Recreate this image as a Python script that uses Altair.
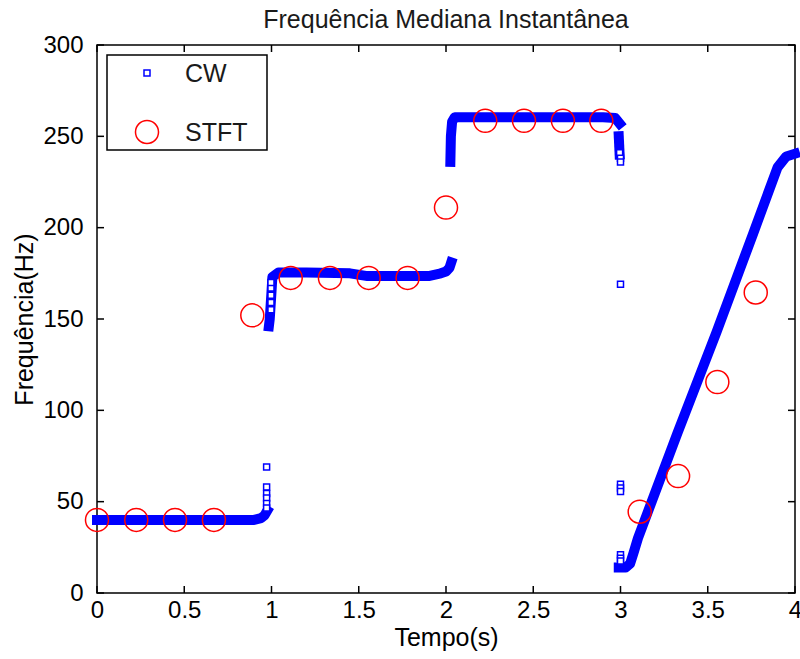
import altair as alt
import pandas as pd

# ---- data ----
x_ticks = [0, 0.5, 1, 1.5, 2, 2.5, 3, 3.5, 4]
y_ticks = [0, 50, 100, 150, 200, 250, 300]

# STFT estimates (red circles)
stft_t = [0.0, 0.225, 0.447, 0.67, 0.89, 1.11, 1.335, 1.557, 1.78, 2.0,
          2.225, 2.447, 2.67, 2.89, 3.11, 3.33, 3.555, 3.775]
stft_f = [40, 40, 40, 40, 152, 172.5, 172.5, 172.5, 172.5, 211,
          258.5, 258.5, 258.5, 258.5, 44.5, 64, 115.5, 164.5]

# CW estimate: dense runs of samples (drawn as a solid band of markers)
band_seg = ["a"] * 5 + ["b"] * 13 + ["c"] * 7 + ["d"] * 2 + ["e"] * 11
band_t = [0.0, 0.90, 0.94, 0.96, 0.975,
          0.985, 0.99, 1.0, 1.005, 1.04, 1.2, 1.45, 1.55, 1.9, 1.97, 2.0, 2.02, 2.03,
          2.025, 2.028, 2.035, 2.05, 2.9, 2.97, 2.995,
          2.99, 2.995,
          2.99, 3.03, 3.055, 3.075, 3.1, 3.326, 3.551, 3.761, 3.9, 3.95, 4.0]
band_f = [40, 40, 41, 42.5, 45,
          146, 150, 165, 173, 175.5, 175.5, 175, 173.5, 173.5, 175, 176, 178, 181,
          236, 250, 258, 260.5, 260.5, 260, 257,
          250, 240,
          14, 14, 16, 22, 30, 87.4, 143, 197, 233, 239, 240.5]

# CW isolated samples
cw_t = [0.972, 0.972, 0.972, 0.972, 0.972, 0.972,
        0.997, 0.997, 0.997, 0.997, 0.997,
        2.995, 3.0, 3.0,
        3.0, 3.0, 3.0, 3.0, 3.0, 3.0, 3.0]
cw_f = [69, 58, 54.5, 52, 49, 46.5,
        155, 159, 163, 167, 170,
        241, 238, 236,
        169, 59.5, 57.5, 55.5, 21, 19, 17.5]

legend_labels = ["CW", "STFT"]
title_text = "Frequência Mediana Instantânea"
x_title = "Tempo(s)"
y_title = "Frequência(Hz)"

FONT = "Liberation Sans"
FS = 25
LFS = 24
W, H = 698, 548
BLUE = "#0000ff"
RED = "#ff0000"

xs = alt.Scale(domain=[0, 4], nice=False, zero=False)
ys = alt.Scale(domain=[0, 300], nice=False, zero=False)

band_df = pd.DataFrame({"seg": band_seg, "t": band_t, "f": band_f,
                        "i": list(range(len(band_t)))})
cw_df = pd.DataFrame({"t": cw_t, "f": cw_f})
stft_df = pd.DataFrame({"t": stft_t, "f": stft_f})
xt_df = pd.DataFrame({"v": x_ticks})
yt_df = pd.DataFrame({"v": y_ticks})

x_axis = alt.Axis(values=x_ticks, labelExpr="'' + datum.value", ticks=False, domain=False,
                  grid=False, labelFontSize=LFS, labelFont=FONT, labelColor="black",
                  labelPadding=5, title=x_title, titleFontSize=FS, titleFont=FONT,
                  titleFontWeight="normal", titleColor="black", titlePadding=3,
                  labelFlush=False)
y_axis = alt.Axis(values=y_ticks, labelExpr="'' + datum.value", ticks=False, domain=False,
                  grid=False, labelFontSize=LFS, labelFont=FONT, labelColor="black",
                  labelPadding=14, title=y_title, titleFontSize=FS, titleFont=FONT,
                  titleFontWeight="normal", titleColor="black", titlePadding=5,
                  labelFlush=False)

band = alt.Chart(band_df).mark_line(
    color=BLUE, strokeWidth=10, strokeCap="square", strokeJoin="round"
).encode(
    x=alt.X("t:Q", scale=xs, axis=x_axis),
    y=alt.Y("f:Q", scale=ys, axis=y_axis),
    detail="seg:N",
    order="i:Q",
)

cw_pts = alt.Chart(cw_df).mark_point(
    shape="square", filled=True, fill="white", stroke=BLUE, strokeWidth=1.5,
    size=36, opacity=1
).encode(x=alt.X("t:Q", scale=xs), y=alt.Y("f:Q", scale=ys))

stft_pts = alt.Chart(stft_df).mark_point(
    shape="circle", filled=False, stroke=RED, strokeWidth=1.5, size=530, opacity=1
).encode(x=alt.X("t:Q", scale=xs), y=alt.Y("f:Q", scale=ys))

# inward tick marks on all four sides (MATLAB box style)
xt_bottom = alt.Chart(xt_df).mark_rule(color="black", strokeWidth=1.5).encode(
    x=alt.X("v:Q", scale=xs), y=alt.value(H), y2=alt.value(H - 7))
xt_top = alt.Chart(xt_df).mark_rule(color="black", strokeWidth=1.5).encode(
    x=alt.X("v:Q", scale=xs), y=alt.value(0), y2=alt.value(7))
yt_left = alt.Chart(yt_df).mark_rule(color="black", strokeWidth=1.5).encode(
    y=alt.Y("v:Q", scale=ys), x=alt.value(0), x2=alt.value(7))
yt_right = alt.Chart(yt_df).mark_rule(color="black", strokeWidth=1.5).encode(
    y=alt.Y("v:Q", scale=ys), x=alt.value(W), x2=alt.value(W - 7))

# legend (drawn inside the plot, top-left)
leg_one = pd.DataFrame({"label": [legend_labels[0]]})
leg_two = pd.DataFrame({"label": [legend_labels[1]]})
leg_box = alt.Chart(leg_one).mark_rect(fill="white", stroke="black", strokeWidth=1.5).encode(
    x=alt.value(10), x2=alt.value(170), y=alt.value(10), y2=alt.value(105))
leg_sq = alt.Chart(leg_one).mark_point(
    shape="square", filled=True, fill="white", stroke=BLUE, strokeWidth=1.5, size=36, opacity=1
).encode(x=alt.value(50), y=alt.value(28))
leg_ci = alt.Chart(leg_two).mark_point(
    shape="circle", filled=False, stroke=RED, strokeWidth=1.5, size=530, opacity=1
).encode(x=alt.value(50), y=alt.value(87))
leg_t1 = alt.Chart(leg_one).mark_text(
    align="left", baseline="middle", font=FONT, fontSize=FS, color="#1a1a1a"
).encode(x=alt.value(88), y=alt.value(29), text="label:N")
leg_t2 = alt.Chart(leg_two).mark_text(
    align="left", baseline="middle", font=FONT, fontSize=FS, color="#1a1a1a"
).encode(x=alt.value(88), y=alt.value(88), text="label:N")

chart = alt.layer(
    band, cw_pts, stft_pts, xt_bottom, xt_top, yt_left, yt_right,
    leg_box, leg_sq, leg_ci, leg_t1, leg_t2
).properties(
    width=W, height=H,
    title=alt.TitleParams(title_text, font=FONT, fontSize=FS, fontWeight="normal",
                          color="#1a1a1a", offset=0, anchor="middle", frame="group"),
    autosize=alt.AutoSizeParams(type="none"),
    padding={"left": 97, "top": 45, "right": 5, "bottom": 66},
    background="white",
).configure_view(stroke="black", strokeWidth=1.5)

chart.save("out.html", embed_options={"renderer": "svg", "actions": False})
